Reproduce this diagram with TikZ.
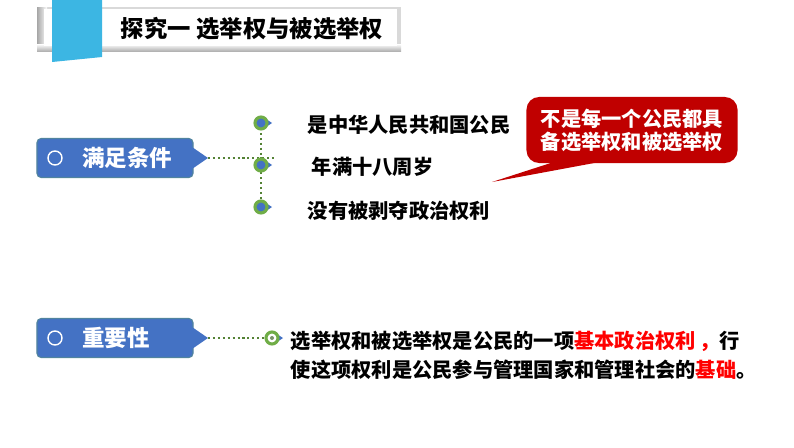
\documentclass[tikz,border=0pt]{standalone}
\usepackage{fontspec}
\setmainfont{Noto Sans CJK SC}
\definecolor{boxblue}{HTML}{4472C4}
\definecolor{dotgreen}{HTML}{70AD47}
\definecolor{notered}{HTML}{C00000}
\definecolor{tabblue}{HTML}{3CB6E3}
\newcommand{\pin}[4][boxblue]{
	\fill[boxblue](#3+2,#4-6)--(#3+11,#4)--(#3+2,#4+6)--cycle;
	\node[dotnode, fill=#1](#2)at(#3,#4){}
}

\begin{document}
\begin{tikzpicture}[x=0.025cm, y=-0.025cm,
	tagbox/.style={fill=boxblue, draw=boxblue!70!dotgreen, line width=.8pt, rounded corners=3pt, minimum width=3.9cm, minimum height=.975cm},
	tagtext/.style={text=white, font=\fontsize{16}{18}\selectfont\bfseries},
	dotnode/.style={circle, draw=dotgreen, line width=2.2pt, minimum size=.3cm, inner sep=0pt},
	item/.style={anchor=west, font=\fontsize{14.4}{16}\selectfont\bfseries},
	link/.style={dotgreen!75!black, dotted, line width=1.5pt}]
	\useasboundingbox(0,0)rectangle(794,447);
	% title bar
	\fill[gray!30](37,7)rectangle(401,51);
	\shade[left color=gray!70, right color=white](37,7)rectangle(47,51);
	\shade[top color=white, bottom color=gray!60](37,44)rectangle(401,51);
	\fill[white](44,9)rectangle(397,46);
	\fill[tabblue](52,0)--(102,0)--(102,57)--(52,62)--cycle;
	\node[anchor=west, font=\fontsize{16.6}{18}\selectfont\bfseries](title)at(116,29){探究一\ 选举权与被选举权};
	% conditions
	\node[tagbox](cond)at(115,158){};
	\draw[white, line width=1pt](55,158)circle(7);
	\node[tagtext](condtxt)at(127,158){满足条件};
	\fill[boxblue](192,147)--(208,158)--(192,169)--cycle;
	\coordinate(condtip)at(208,158);
	\coordinate(condend)at(276,158);
	\draw[link](condtip)--(condend);
	\draw[link](261,123)--(261,207);
	\pin{d1}{261}{123};
	\pin{d2}{261}{165};
	\pin{d3}{261}{207};
	\node[item](c1)at(303,125){是中华人民共和国公民};
	\node[item](c2)at(307,167){年满十八周岁};
	\node[item](c3)at(303,211){没有被剥夺政治权利};
	% red note
	\node[fill=notered, rounded corners=9pt, minimum width=5.275cm, minimum height=1.65cm, text=white, align=center, font=\fontsize{14.4}{16.3}\selectfont\bfseries](note)at(632,130){不是每一个公民都具\\备选举权和被选举权};
	\coordinate(notetip)at(492,182);
	\fill[notered]([xshift=.9cm, yshift=.1cm]note.south west)--(notetip)--([xshift=2.2cm, yshift=.1cm]note.south west)--cycle;
	% importance
	\node[tagbox](imp)at(115,338){};
	\draw[white, line width=1pt](55,338)circle(7);
	\node[tagtext](imptxt)at(116,338){重要性};
	\fill[boxblue](192,327)--(208,338)--(192,349)--cycle;
	\coordinate(imptip)at(208,338);
	\pin[white]{d4}{272}{338};
	\fill[gray!60!dotgreen](d4)circle(2);
	\draw[link](imptip)--(d4);
	\node[item](l1)at(286,341){选举权和被选举权是公民的一项\textcolor{red}{基本政治权利\,，}行};
	\node[item](l2)at(286,370){使这项权利是公民参与管理国家和管理社会的\textcolor{red}{基础}。};
\end{tikzpicture}
\end{document}
